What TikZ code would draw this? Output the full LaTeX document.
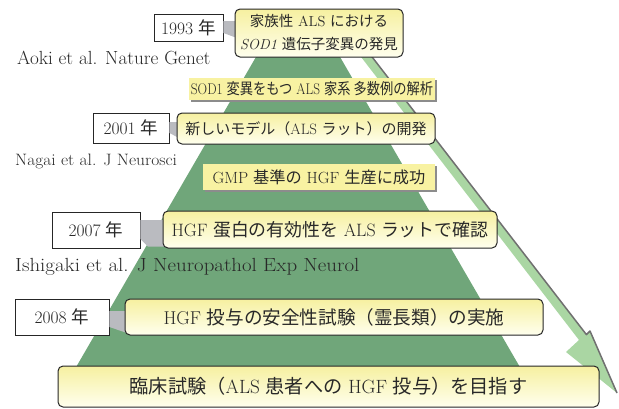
\documentclass[tikz,border=0pt]{standalone}
\usepackage{fontspec}
\usepackage{graphicx}
\newfontfamily\jpf{Noto Sans CJK JP}
\newcommand\J[1]{{\jpf #1}}
\usetikzlibrary{calc,shadows}
\definecolor{dgreen}{RGB}{112,166,122}
\definecolor{lgreen}{RGB}{170,214,163}
\definecolor{arrline}{RGB}{112,112,112}
\definecolor{conncol}{RGB}{186,187,192}
\definecolor{boxtop}{RGB}{246,240,160}
\definecolor{boxbot}{RGB}{255,255,238}
\definecolor{lblcol}{RGB}{248,242,162}
\definecolor{txt}{RGB}{40,40,40}
\tikzset{
  yearbox/.style={draw=black!85, line width=0.9pt, fill=white, inner sep=0pt, text=txt,
    font=\fontsize{17.5}{20}\selectfont},
  mainbox/.style={draw=black!85, line width=1pt, rounded corners=5pt, top color=boxtop,
    bottom color=boxbot, inner sep=0pt, text=txt},
  labelbox/.style={fill=lblcol, inner sep=0pt, text=txt,
    drop shadow={shadow xshift=1.6pt, shadow yshift=-1.6pt, fill=black!45, opacity=1}},
  reftext/.style={inner sep=0pt, text=txt},
  conn/.style={fill=conncol}
}
\begin{document}
\begin{tikzpicture}[x=1pt,y=-1pt]
\useasboundingbox (0,0) rectangle (619,408);

% green pyramid
\fill[dgreen] (260,50) -- (336,50) -- (530.3,385) -- (65.7,385) -- cycle;

% light green arrow
\coordinate (aLT) at (348,40);
\coordinate (aRT) at (359,40);
\coordinate (aBL) at (579,340);
\coordinate (aLB) at (566,352);
\coordinate (aTip) at (617,393);
\coordinate (aRB) at (590,331);
\coordinate (aBR) at (586.4,334.6);
\fill[lgreen] (aLT) -- (aBL) -- (aLB) -- (aTip) -- (aRB) -- (aBR) -- (aRT) -- cycle;
\draw[arrline, line width=1.5pt, line join=round] (aRT) -- (aBR) -- (aRB) -- (aTip);

% year boxes
\node[yearbox, minimum width=69pt, minimum height=27pt] (y93) at (188.5,27.5) {1993 \J{年}};
\node[yearbox, minimum width=76pt, minimum height=30pt] (y01) at (131,128) {2001 \J{年}};
\node[yearbox, minimum width=88pt, minimum height=36pt] (y07) at (96,230) {2007 \J{年}};
\node[yearbox, minimum width=94pt, minimum height=36pt] (y08) at (62,317) {2008 \J{年}};

% main box centres
\path (319,33) coordinate (c93) (306,128.5) coordinate (c01) (330,229.5) coordinate (c07)
      (334,317) coordinate (c08) (328.5,386.5) coordinate (cEnd);

% gray connectors
\fill[conn] ($(y93.east)+(0,-6.5)$) -- ($(c93)+(-82,-12)$) -- ($(c93)+(-82,5)$) -- ($(y93.east)+(0,5.5)$) -- cycle;
\fill[conn] ($(y01.east)+(0,-6)$) -- ($(c01)+(-127,-6.5)$) -- ($(c01)+(-127,9.5)$) -- ($(y01.east)+(0,5)$) -- cycle;
\fill[conn] ($(y07.east)+(0,-10)$) -- ($(c07)+(-165,-9.5)$) -- ($(c07)+(-165,17)$) -- ($(c07)+(-182,17)$) -- ($(y07.east)+(0,9)$) -- cycle;
\fill[conn] ($(y08.east)+(0,-6)$) -- ($(c08)+(-207,-6)$) -- ($(c08)+(-207,16)$) -- ($(y08.east)+(0,10)$) -- cycle;

% labels
\node[labelbox, minimum width=246pt, minimum height=22pt, font=\fontsize{15.5}{18}\selectfont] (lab1) at (312,89)
  {\scalebox{0.855}[1]{SOD1 \J{変異をもつ} ALS \J{家系 多数例の解析}}};
\node[labelbox, minimum width=232pt, minimum height=26pt, font=\fontsize{16.2}{18}\selectfont] (lab2) at (319,177)
  {GMP \J{基準の} HGF \J{生産に成功}};

% main boxes
\node[mainbox, minimum width=168pt, minimum height=48pt, align=center, font=\fontsize{14.5}{23}\selectfont] (b93) at (c93)
  {\J{家族性} ALS \J{における}\\\textit{SOD1} \J{遺伝子変異の発見}};
\node[mainbox, minimum width=258pt, minimum height=31pt, font=\fontsize{15}{18}\selectfont] (b01) at (c01)
  {\J{新しいモデル（}ALS \J{ラット）の開発}};
\node[mainbox, minimum width=334pt, minimum height=37pt, font=\fontsize{17.9}{20}\selectfont] (b07) at (c07)
  {HGF \J{蛋白の有効性を} ALS \J{ラットで確認}};
\node[mainbox, minimum width=418pt, minimum height=36pt, font=\fontsize{18.6}{20}\selectfont] (b08) at (c08)
  {HGF \J{投与の安全性試験（霊長類）の実施}};
\node[mainbox, minimum width=541pt, minimum height=41pt, font=\fontsize{19.2}{21}\selectfont] (bEnd) at (cEnd)
  {\J{臨床試験（}ALS \J{患者への} HGF \J{投与）を目指す}};

% references
\node[reftext, anchor=base west, font=\fontsize{19}{20}\selectfont] (r93) at (17,64) {\scalebox{1.01}[1]{Aoki et al. Nature Genet}};
\node[reftext, anchor=base west, font=\fontsize{16.5}{18}\selectfont] (r01) at (15,165) {\scalebox{1.06}[1]{Nagai et al. J Neurosci}};
\node[reftext, anchor=base west, font=\fontsize{19}{20}\selectfont] (r07) at (15,271) {\scalebox{1.1}[1]{Ishigaki et al. J Neuropathol Exp Neurol}};
\end{tikzpicture}
\end{document}
